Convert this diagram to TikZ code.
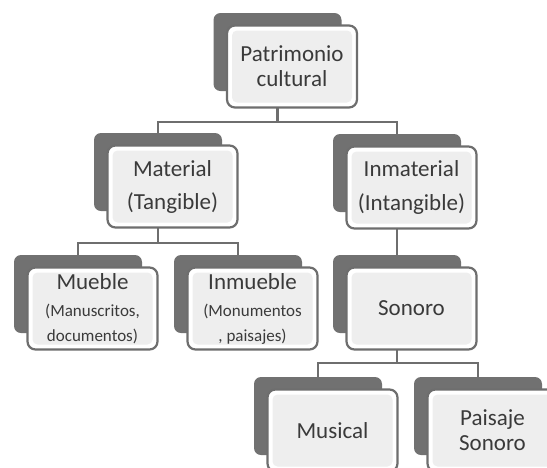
\documentclass[tikz,border=0pt]{standalone}
\usepackage{fontspec}
\setmainfont{Carlito}
\usetikzlibrary{backgrounds}
\definecolor{backgray}{HTML}{717171}
\definecolor{edgegray}{HTML}{6E6E6E}
\definecolor{innergray}{HTML}{EEEEEE}
\definecolor{txtgray}{HTML}{3A3A3A}
\definecolor{linegray}{HTML}{6E6E6E}
\begin{document}
\begin{tikzpicture}[x=1pt,y=-1pt,
  backbox/.style={fill=backgray, rounded corners=7pt, minimum width=128pt, minimum height=78pt, inner sep=0pt},
  frontbox/.style={draw=edgegray, line width=2.2pt, fill=white, rounded corners=8pt,
    minimum width=130pt, minimum height=82pt, inner sep=0pt, text=txtgray, align=center,
    font=\fontsize{23}{25}\selectfont,
    path picture={\fill[innergray, rounded corners=5pt]
      ([shift={(5pt,-5pt)}]path picture bounding box.north west) rectangle
      ([shift={(-5pt,5pt)}]path picture bounding box.south east);}},
  link/.style={draw=linegray, line width=2.8pt}]
\useasboundingbox (0,0) rectangle (547,467);
\clip (0,0) rectangle (547,467);

% back (dark) boxes
\node[backbox] (top) at (277.5,52) {};
\node[backbox] (mat) at (158,172) {};
\node[backbox] (inm) at (397,173) {};
\node[backbox] (mue) at (78,294) {};
\node[backbox] (inmu) at (238,294) {};
\node[backbox] (son) at (397,294) {};
\node[backbox] (mus) at (318,416) {};
\node[backbox] (pai) at (478,416) {};

% front boxes
\node[frontbox] (topf) at ([shift={(14.5pt,-14.5pt)}]top.center) {Patrimonio\\cultural};
\node[frontbox] (matf) at ([shift={(14.5pt,-14.5pt)}]mat.center) {Material\\[8pt](Tangible)};
\node[frontbox] (inmf) at ([shift={(14.5pt,-14.5pt)}]inm.center) {Inmaterial\\[9pt](Intangible)};
\node[frontbox] (muef) at ([shift={(14.5pt,-14.5pt)}]mue.center) {Mueble\\[2pt]{\fontsize{17}{19.5}\selectfont (Manuscritos,}\\{\fontsize{17}{19.5}\selectfont documentos)}};
\node[frontbox] (inmuf) at ([shift={(14.5pt,-14.5pt)}]inmu.center) {Inmueble\\[2pt]{\fontsize{17}{19.5}\selectfont (Monumentos}\\{\fontsize{17}{19.5}\selectfont , paisajes)}};
\node[frontbox] (sonf) at ([shift={(14.5pt,-14.5pt)}]son.center) {Sonoro};
\node[frontbox] (musf) at ([shift={(14.5pt,-14.5pt)}]mus.center) {Musical};
\node[frontbox] (paif) at ([shift={(14.5pt,-14.5pt)}]pai.center) {Paisaje\\Sonoro};

\coordinate (bus1) at (0,122);
\coordinate (bus2) at (0,243);
\coordinate (bus3) at (0,363);

\begin{pgfonlayer}{background}
  \fill[white] (0,0) rectangle (547,467);
  \draw[link] (top.center) -- (top.center |- bus1) -| (mat.north);
  \draw[link] (top.center |- bus1) -| (inm.north);
  \draw[link] (mat.center) -- (mat.center |- bus2) -| (mue.north);
  \draw[link] (mat.center |- bus2) -| (inmu.north);
  \draw[link] (inm.center) -- (son.north);
  \draw[link] (son.center) -- (son.center |- bus3) -| (mus.north);
  \draw[link] (son.center |- bus3) -| (pai.north);
\end{pgfonlayer}
\end{tikzpicture}
\end{document}
